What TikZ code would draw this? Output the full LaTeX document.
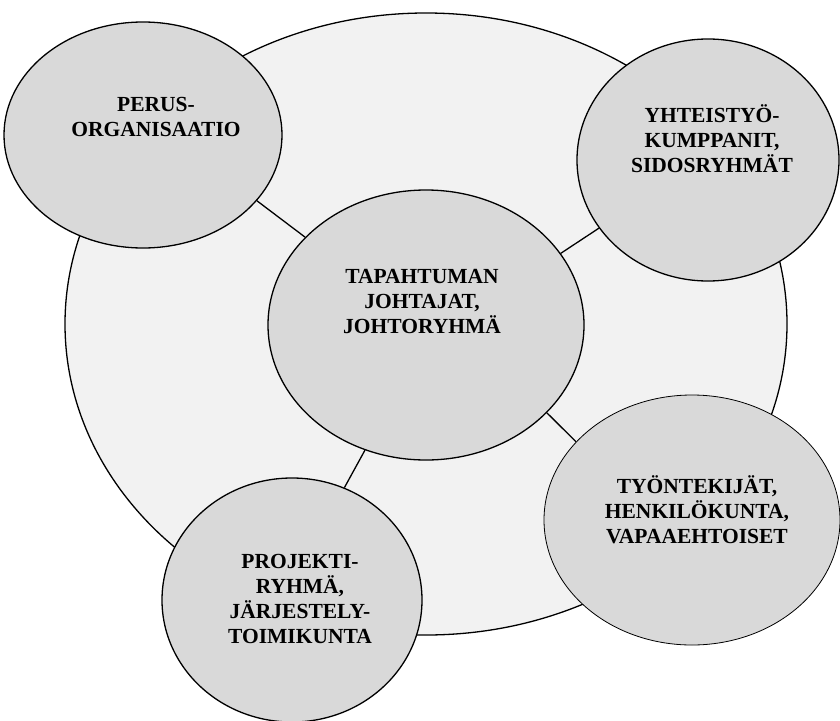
\documentclass[tikz,border=0pt]{standalone}
\usepackage{fontspec}
\setmainfont{Liberation Serif}
\usetikzlibrary{shapes.geometric}

\definecolor{ringfill}{HTML}{F2F2F2}
\definecolor{groupfill}{HTML}{D9D9D9}

\tikzset{
  group/.style={ellipse, draw=black, line width=1.3pt, fill=groupfill, inner sep=0pt},
  ring/.style={ellipse, draw=black, line width=1.3pt, fill=ringfill, inner sep=0pt},
  grouplabel/.style={align=center, inner sep=0pt,
    font=\fontsize{21.5}{25}\selectfont\bfseries},
  link/.style={draw=black, line width=1.3pt}
}

\begin{document}
\begin{tikzpicture}[x=1pt,y=-1pt]
  \useasboundingbox (0,0) rectangle (840,720);

  % outer ring holding the whole organisation
  \node[ring, minimum width=722pt, minimum height=622pt] (ring) at (426,324) {};

  % stakeholder groups
  \node[group, minimum width=278pt, minimum height=226pt] (perus) at (143,135) {};
  \node[group, minimum width=262pt, minimum height=242pt] (yht) at (708,160) {};
  \node[group, minimum width=316pt, minimum height=270pt] (johto) at (426,325) {};
  \node[group, line width=0.8pt, minimum width=296pt, minimum height=250pt] (tyo) at (692,520) {};
  \node[group, minimum width=260pt, minimum height=244pt] (proj) at (292,600) {};

  % group names
  \node[grouplabel] (perus-t) at (156,117) {PERUS-\\ORGANISAATIO};
  \node[grouplabel] (yht-t) at (712,139) {YHTEISTYÖ-\\KUMPPANIT,\\SIDOSRYHMÄT};
  \node[grouplabel] (johto-t) at (422,302) {TAPAHTUMAN\\JOHTAJAT,\\JOHTORYHMÄ};
  \node[grouplabel] (tyo-t) at (697,510) {TYÖNTEKIJÄT,\\HENKILÖKUNTA,\\VAPAAEHTOISET};
  \node[grouplabel] (proj-t) at (300,599) {PROJEKTI-\\RYHMÄ,\\JÄRJESTELY-\\TOIMIKUNTA};

  % links from the leadership to each group
  \draw[link] (perus.-30) -- (johto.144);
  \draw[link] (yht.212) -- (johto.28);
  \draw[link] (johto.-36) -- (tyo.146);
  \draw[link] (johto.244) -- (proj.65);
\end{tikzpicture}
\end{document}
